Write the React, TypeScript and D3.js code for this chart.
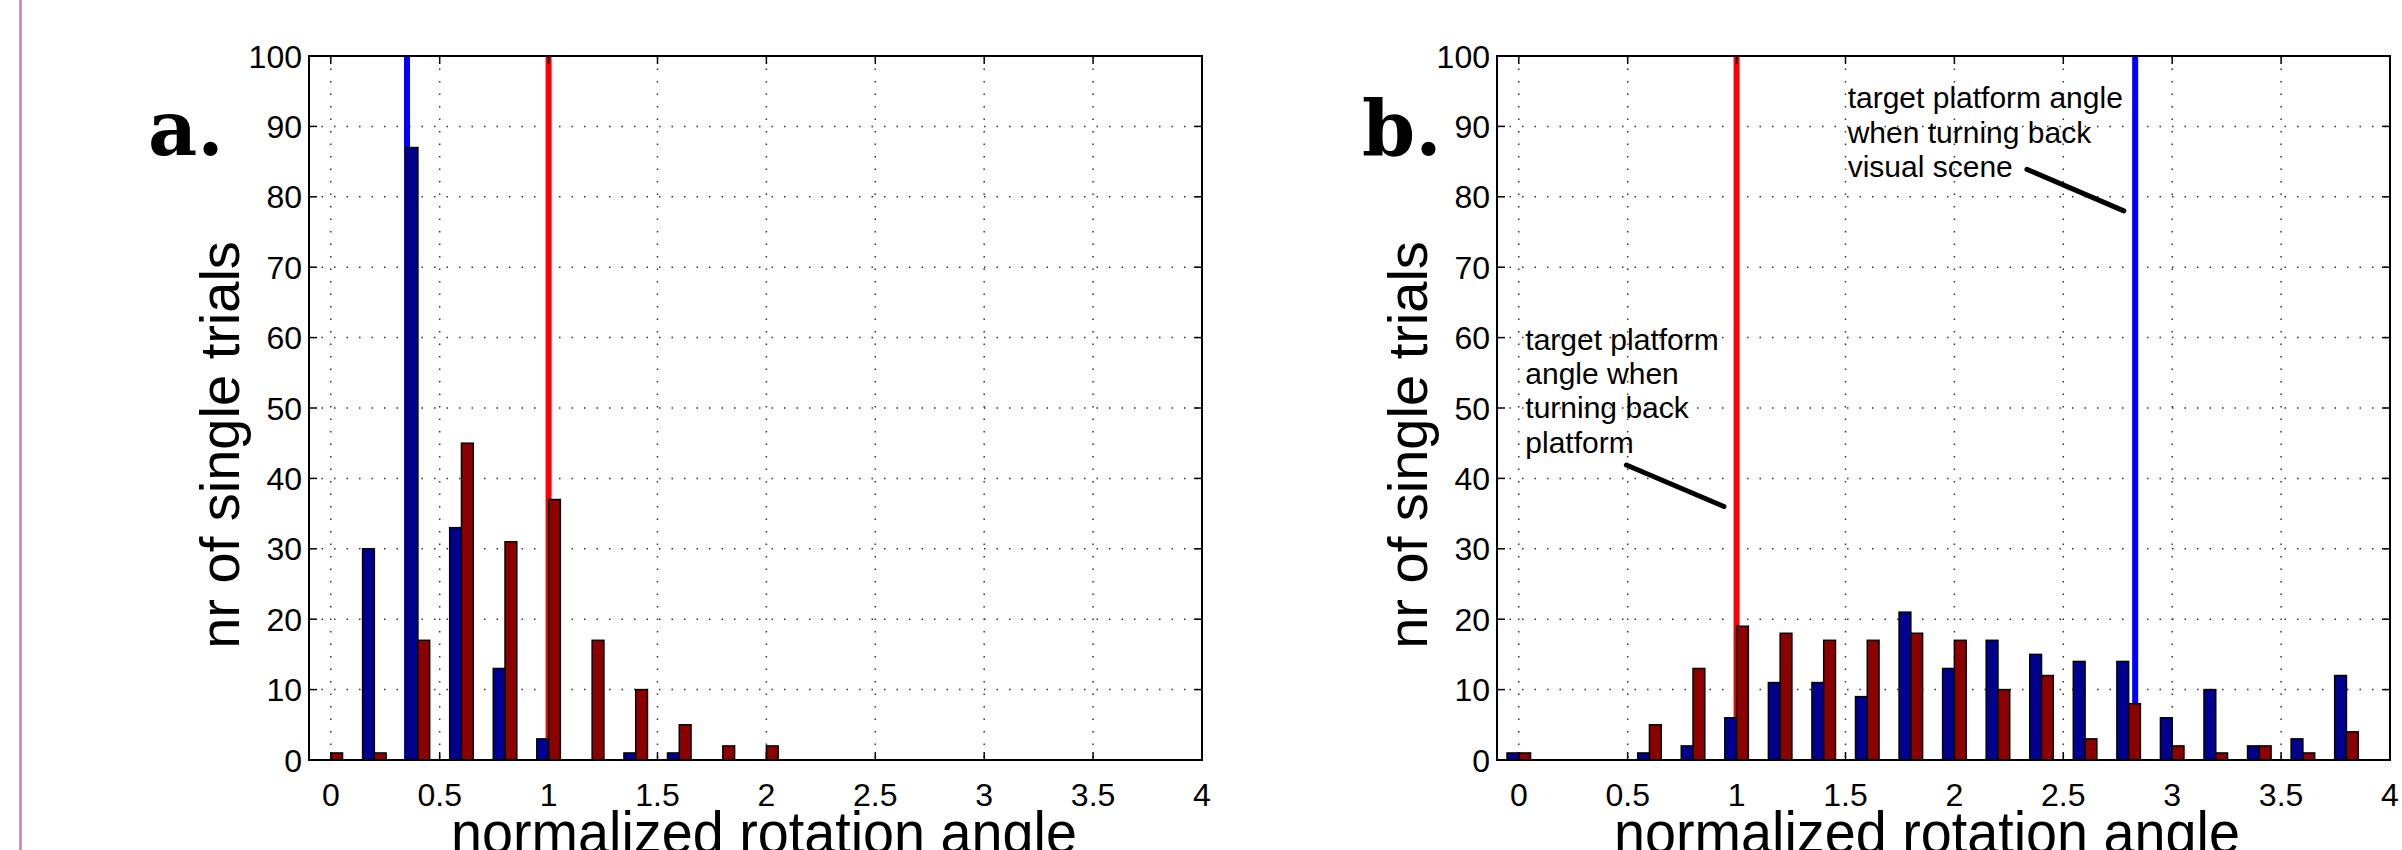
import React from 'react';
import * as d3 from 'd3';

// bin centres of the histograms (normalized rotation angle)
const bins = [0, 0.2, 0.4, 0.6, 0.8, 1.0, 1.2, 1.4, 1.6, 1.8, 2.0, 2.2, 2.4, 2.6, 2.8, 3.0, 3.2, 3.4, 3.6, 3.8];

// panel a counts
const aBlue = [0, 30, 87, 33, 13, 3, 0, 1, 1, 0, 0, 0, 0, 0, 0, 0, 0, 0, 0, 0];
const aRed = [1, 1, 17, 45, 31, 37, 17, 10, 5, 2, 2, 0, 0, 0, 0, 0, 0, 0, 0, 0];

// panel b counts
const bBlue = [1, 0, 0, 1, 2, 6, 11, 11, 9, 21, 13, 17, 15, 14, 14, 6, 10, 2, 3, 12];
const bRed = [1, 0, 0, 5, 13, 19, 18, 17, 17, 18, 17, 10, 12, 3, 8, 2, 1, 2, 1, 4];

// target angles (vertical lines)
const aMarkers = [{ x: 0.35, color: '#0000ff' }, { x: 1.0, color: '#ff0000' }];
const bMarkers = [{ x: 1.0, color: '#ff0000' }, { x: 2.83, color: '#0000ff' }];

const xTicks = [0, 0.5, 1, 1.5, 2, 2.5, 3, 3.5, 4];
const yTicks = [0, 10, 20, 30, 40, 50, 60, 70, 80, 90, 100];

// annotations of panel b, in data units
const bNotes = [
  { x: 0.03, y: [58.3, 53.4, 48.6, 43.6], lines: ['target platform', 'angle when', 'turning back', 'platform'], arrow: [0.494, 41.9, 0.942, 36.0] },
  { x: 1.51, y: [92.6, 87.6, 82.8], lines: ['target platform angle', 'when turning back', 'visual scene'], arrow: [2.333, 83.9, 2.778, 78.0] },
];

const W = 893;
const H = 704;
const TOP = 56;
const BAR_W = 0.054;
const FONT = '"Liberation Sans", Arial, Helvetica, sans-serif';

type Note = { x: number; y: number[]; lines: string[]; arrow: number[] };

function Panel(props: {
  left: number; blue: number[]; red: number[]; markers: { x: number; color: string }[];
  tag: string; tagX: number; xLabelX: number; notes: Note[];
}) {
  const { left, blue, red, markers, tag, tagX, xLabelX, notes } = props;
  const x = d3.scaleLinear().domain([-0.1, 4]).range([0, W]);
  const y = d3.scaleLinear().domain([0, 100]).range([H, 0]);
  const bw = x(BAR_W) - x(0);

  return (
    <g>
      <text x={tagX} y={155} fontFamily='"DejaVu Serif", serif' fontWeight="bold" fontSize={76}>{tag}</text>
      <text transform={`translate(${left - 70},445) rotate(-90)`} textAnchor="middle" fontFamily={FONT} fontSize={56}>nr of single trials</text>
      <text x={xLabelX} y={853} fontFamily={FONT} fontSize={60} textLength={626} lengthAdjust="spacingAndGlyphs">normalized rotation angle</text>
      <g transform={`translate(${left},${TOP})`}>
        <rect x={0} y={0} width={W} height={H} fill="#fff" />
        {/* dotted grid */}
        {xTicks.filter(t => t < 4).map(t => (
          <line key={'gx' + t} x1={x(t)} x2={x(t)} y1={0} y2={H} stroke="#333" strokeWidth={1.5} strokeDasharray="1.5 11" />
        ))}
        {yTicks.filter(t => t > 0 && t < 100).map(t => (
          <line key={'gy' + t} x1={0} x2={W} y1={y(t)} y2={y(t)} stroke="#333" strokeWidth={1.5} strokeDasharray="1.5 11" />
        ))}
        {/* target angle lines */}
        {markers.map(m => (
          <line key={'m' + m.x} x1={x(m.x)} x2={x(m.x)} y1={y(100)} y2={y(0)} stroke={m.color} strokeWidth={6} />
        ))}
        {/* bars */}
        {bins.map((c, i) => blue[i] > 0 ? (
          <rect key={'b' + i} x={x(c - BAR_W)} y={y(blue[i])} width={bw} height={y(0) - y(blue[i])} fill="#000090" stroke="#000" strokeWidth={1.5} />
        ) : null)}
        {bins.map((c, i) => red[i] > 0 ? (
          <rect key={'r' + i} x={x(c)} y={y(red[i])} width={bw} height={y(0) - y(red[i])} fill="#8c0000" stroke="#000" strokeWidth={1.5} />
        ) : null)}
        {/* annotations */}
        {notes.map((n, k) => (
          <g key={'n' + k}>
            {n.lines.map((l, j) => (
              <text key={j} x={x(n.x)} y={y(n.y[j])} fontFamily={FONT} fontSize={30}>{l}</text>
            ))}
            <line x1={x(n.arrow[0])} y1={y(n.arrow[1])} x2={x(n.arrow[2])} y2={y(n.arrow[3])} stroke="#000" strokeWidth={5} strokeLinecap="round" />
          </g>
        ))}
        {/* ticks */}
        {xTicks.map(t => (
          <g key={'tx' + t}>
            <line x1={x(t)} x2={x(t)} y1={H} y2={H - 8} stroke="#000" strokeWidth={1.5} />
            <line x1={x(t)} x2={x(t)} y1={0} y2={8} stroke="#000" strokeWidth={1.5} />
            <text x={x(t)} y={H + 46} textAnchor="middle" fontFamily={FONT} fontSize={32}>{t}</text>
          </g>
        ))}
        {yTicks.map(t => (
          <g key={'ty' + t}>
            <line x1={0} x2={8} y1={y(t)} y2={y(t)} stroke="#000" strokeWidth={1.5} />
            <line x1={W} x2={W - 8} y1={y(t)} y2={y(t)} stroke="#000" strokeWidth={1.5} />
            <text x={-7} y={y(t)} dy="0.36em" textAnchor="end" fontFamily={FONT} fontSize={32}>{t}</text>
          </g>
        ))}
        <line x1={0} x2={W} y1={H} y2={H} stroke="#000" strokeWidth={2} />
        <rect x={0} y={0} width={W} height={H} fill="none" stroke="#000" strokeWidth={2} />
      </g>
    </g>
  );
}

export default function App() {
  return (
    <div style={{ position: 'absolute', left: 0, top: 0 }}>
      <svg width={2402} height={850} style={{ display: 'block', background: '#fff' }}>
        <line x1={20.5} x2={20.5} y1={0} y2={850} stroke="#c77bc1" strokeWidth={2.5} />
        <Panel left={309} blue={aBlue} red={aRed} markers={aMarkers} tag="a." tagX={148} xLabelX={451} notes={[]} />
        <Panel left={1497} blue={bBlue} red={bRed} markers={bMarkers} tag="b." tagX={1362} xLabelX={1614} notes={bNotes} />
      </svg>
    </div>
  );
}
